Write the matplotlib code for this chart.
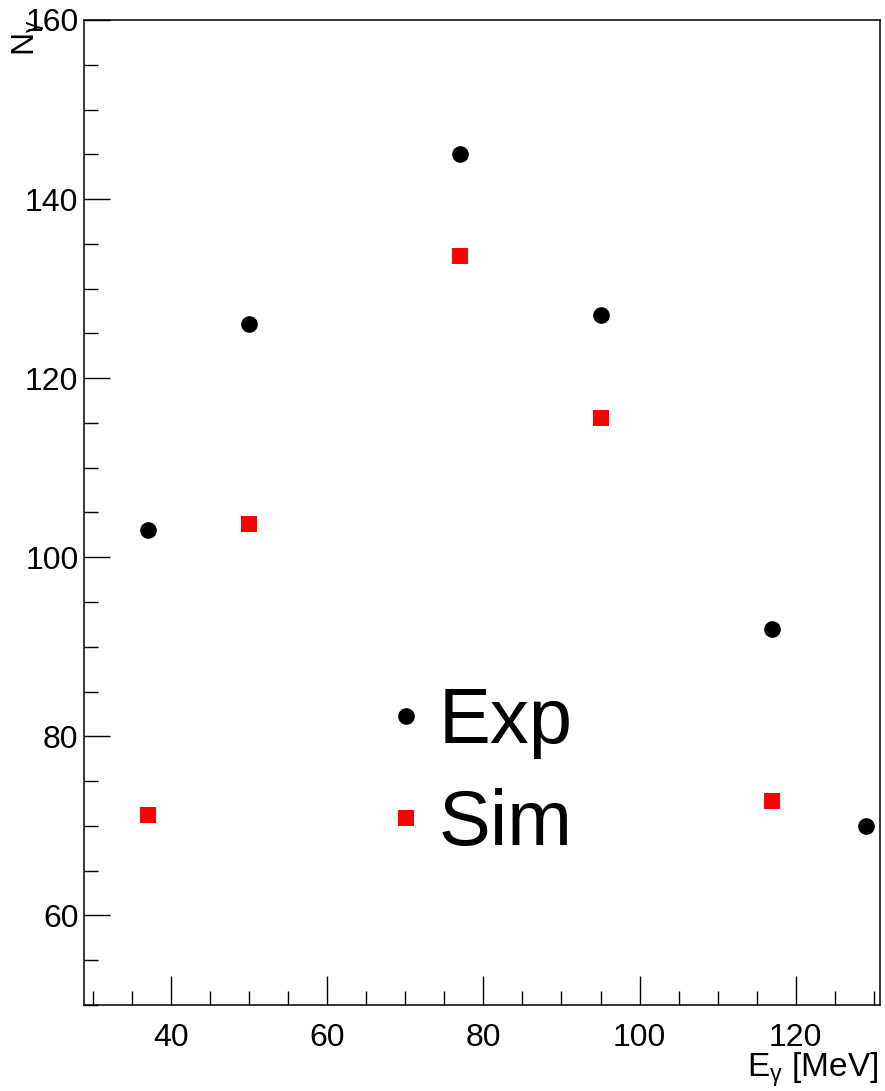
import matplotlib

matplotlib.use("Agg")
import matplotlib.pyplot as plt  # noqa: E402
from matplotlib.ticker import MultipleLocator  # noqa: E402

# data
exp_e = [37, 50, 77, 95, 117, 129]
exp_n = [103, 126, 145, 127, 92, 70]
sim_e = [37, 50, 77, 95, 117]
sim_n = [71.2, 103.7, 133.6, 115.6, 72.8]

plt.rcParams.update({
    "font.family": ["Liberation Sans", "DejaVu Sans"],
    "mathtext.fontset": "custom",
    "mathtext.rm": "Liberation Sans",
    "mathtext.it": "Liberation Sans",
    "axes.linewidth": 1.1,
})

fig = plt.figure(figsize=(8.85, 10.91), dpi=100)
ax = fig.add_axes([0.0949, 0.0788, 0.8995, 0.9029])

exp_line, = ax.plot(exp_e, exp_n, "o", color="black", ms=12, mew=0, label="Exp")
sim_line, = ax.plot(sim_e, sim_n, "s", color="red", ms=11.5, mew=0, label="Sim")

ax.set_xlim(28.85, 130.8)
ax.set_ylim(50, 160)

ax.xaxis.set_major_locator(MultipleLocator(20))
ax.xaxis.set_minor_locator(MultipleLocator(5))
ax.yaxis.set_major_locator(MultipleLocator(20))
ax.yaxis.set_minor_locator(MultipleLocator(5))
ax.tick_params(which="both", direction="in", top=False, right=False,
               labelsize=23, width=1.0)
ax.tick_params(axis="x", which="major", length=21, pad=13)
ax.tick_params(axis="x", which="minor", length=10)
ax.tick_params(axis="y", which="major", length=19, pad=4)
ax.tick_params(axis="y", which="minor", length=10)

ax.set_xlabel(r"E$_{\mathrm{γ}}$ [MeV]", fontsize=24, loc="right")
ax.xaxis.set_label_coords(0.998, -0.046)
ax.set_ylabel(r"N$_{\mathrm{γ}}$", fontsize=23, loc="top")
ax.yaxis.set_label_coords(-0.046, 1.0)

ax.legend(handles=[exp_line, sim_line], loc="upper left",
          bbox_to_anchor=(0.397, 0.324), fontsize=56, frameon=False,
          borderpad=0, borderaxespad=0, handlelength=0.15,
          handletextpad=0.35, labelspacing=0.38, markerscale=1.0)

fig.savefig("out.png", dpi=100)
